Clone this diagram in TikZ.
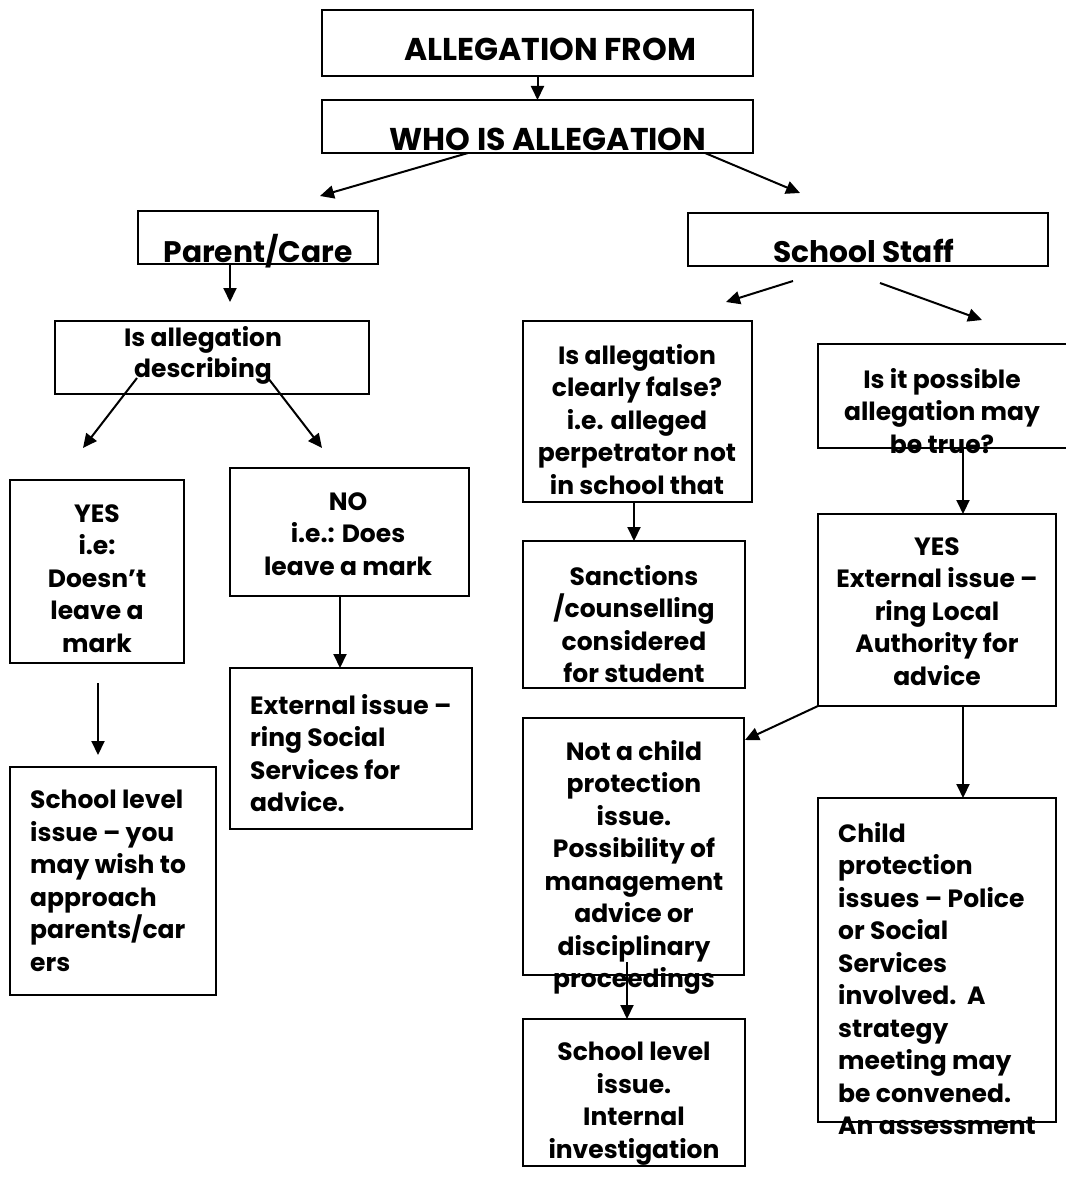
\documentclass[tikz,border=0pt]{standalone}
\usepackage{fontspec}
\setmainfont{Poppins}
\usetikzlibrary{arrows.meta,calc}
\tikzset{
 box/.style={draw,line width=2pt,rectangle,inner sep=0pt,outer sep=0pt},
 arr/.style={line width=2pt,-{Triangle[length=14pt,width=13pt]}},
 txt/.style={font=\fontsize{25}{32.5}\selectfont\bfseries,inner sep=0pt,align=center,anchor=north,execute at begin node=\strut},
 ltxt/.style={txt,align=left,anchor=north west},
 big/.style={font=\fontsize{31.5}{36}\selectfont\bfseries,inner sep=0pt,anchor=base},
 mid/.style={font=\fontsize{29.7}{34}\selectfont\bfseries,inner sep=0pt,anchor=base},
}
\newcommand\bx[5]{\node[box,minimum width={(#4-#2)*1pt},minimum height={(#5-#3)*1pt}] (#1) at ({(#2+#4)/2},{(#3+#5)/2}) {};}
\begin{document}
\begin{tikzpicture}[x=1pt,y=-1pt]
\useasboundingbox (0,0) rectangle (1065,1182);
% boxes
\bx{top}{322}{10}{753}{76}
\bx{who}{322}{100}{753}{153}
\bx{parent}{138}{211}{378}{264}
\bx{staff}{688}{213}{1048}{266}
\bx{desc}{55}{321}{369}{394}
\bx{yes}{10}{480}{184}{663}
\bx{no}{230}{468}{469}{596}
\bx{ext}{230}{668}{472}{829}
\bx{schA}{10}{767}{216}{995}
\bx{false}{523}{321}{752}{502}
\bx{poss}{818}{344}{1075}{448}
\bx{sanc}{523}{541}{745}{688}
\bx{yesext}{818}{514}{1056}{706}
\bx{notcp}{523}{718}{744}{975}
\bx{schB}{523}{1019}{745}{1166}
\bx{cp}{818}{798}{1056}{1122}
% texts
\node[big] (t1) at (550,61) {ALLEGATION FROM};
\node[big] (t2) at (548,151) {WHO IS ALLEGATION};
\node[mid] (t3) at (258,262) {Parent/Care};
\node[mid] (t4) at (864,262) {School Staff};
\node[txt,font=\fontsize{25}{31}\selectfont\bfseries] (t5) at (203,{348-21.7}) {Is allegation\\describing};
\node[txt] (t6) at (97,{527-22.75}) {YES\\i.e:\\Doesn’t\\leave a\\mark};
\node[txt] (t7) at (348,{515-22.75}) {NO\\i.e.: Does\\leave a mark};
\node[ltxt] (t8) at (250,{717-22.75}) {External issue –\\ring Social\\Services for\\advice.};
\node[ltxt] (t9) at (30,{813-22.75}) {School level\\issue – you\\may wish to\\approach\\parents/car\\ers};
\node[txt] (t10) at (637,{367-22.75}) {Is allegation\\clearly false?\\i.e. alleged\\perpetrator not\\in school that};
\node[txt] (t11) at (942,{391-22.75}) {Is it possible\\allegation may\\be true?};
\node[txt] (t12) at (634,{588-22.75}) {Sanctions\\/counselling\\considered\\for student};
\node[txt] (t13) at (937,{560-22.75}) {YES\\External issue –\\ring Local\\Authority for\\advice};
\node[txt] (t14) at (634,{763-22.75}) {Not a child\\protection\\issue.\\Possibility of\\management\\advice or\\disciplinary\\proceedings};
\node[txt] (t15) at (634,{1065-22.75}) {School level\\issue.\\Internal\\investigation};
\node[ltxt] (t16) at (838,{845-22.75}) {Child\\protection\\issues – Police\\or Social\\Services\\involved.~~A\\strategy\\meeting may\\be convened.\\An assessment};
% free ends
\coordinate (a1) at (320,196);
\coordinate (a2) at (800,193);
\coordinate (a3) at (230,302);
\coordinate (a4) at (83,448);
\coordinate (a5) at (322,448);
\coordinate (a6s) at (98,683);
\coordinate (a6) at (98,755);
\coordinate (a7s) at (793,281);
\coordinate (a7) at (726,302);
\coordinate (a8s) at (880,283);
\coordinate (a8) at (982,320);
\coordinate (a9) at (745,740);
% connectors
\draw[arr] (top.south) -- (who.north);
\draw[arr] ($(who.south west)+(146,0)$) -- (a1);
\draw[arr] ($(who.south west)+(383,0)$) -- (a2);
\draw[arr] ($(parent.south west)+(92,0)$) -- (a3);
\draw[arr] ($(desc.south west)+(82,-16)$) -- (a4);
\draw[arr] ($(desc.south west)+(213,-16)$) -- (a5);
\draw[arr] (a6s) -- (a6);
\draw[arr] ($(no.south west)+(110,0)$) -- ($(ext.north west)+(110,0)$);
\draw[arr] (a7s) -- (a7);
\draw[arr] (a8s) -- (a8);
\draw[arr] ($(false.south west)+(111,0)$) -- ($(sanc.north west)+(111,0)$);
\draw[arr] ($(poss.south west)+(145,0)$) -- ($(yesext.north west)+(145,0)$);
\draw[arr] (yesext.south west) -- (a9);
\draw[arr] ($(yesext.south west)+(145,0)$) -- ($(cp.north west)+(145,0)$);
\draw[arr] ($(notcp.south west)+(104,-13)$) -- ($(schB.north west)+(104,0)$);
\end{tikzpicture}
\end{document}
